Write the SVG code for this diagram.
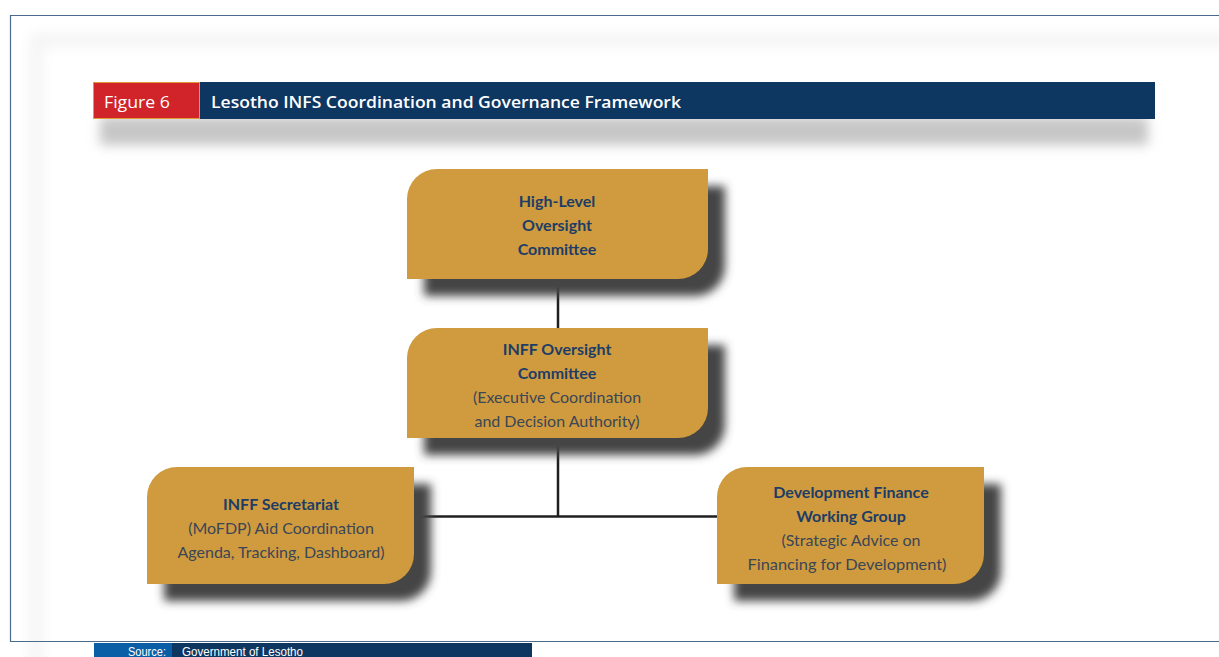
<svg xmlns="http://www.w3.org/2000/svg" width="1219" height="657" viewBox="0 0 1219 657">
  <defs>
    <filter id="soft" x="-10%" y="-10%" width="120%" height="120%">
      <feGaussianBlur stdDeviation="7"/>
    </filter>
    <filter id="hdrShadow" x="-5%" y="-60%" width="110%" height="220%">
      <feGaussianBlur stdDeviation="6"/>
    </filter>
    <filter id="boxShadow" x="-20%" y="-20%" width="140%" height="140%">
      <feGaussianBlur stdDeviation="5"/>
    </filter>
    <path id="box300" d="M30,0 H301 V80 A30,30 0 0 1 271,110 H0 V30 A30,30 0 0 1 30,0 Z"/>
    <path id="box267" d="M30,0 H267 V87 A30,30 0 0 1 237,117 H0 V30 A30,30 0 0 1 30,0 Z"/>
  </defs>
  <style>
    .frame { fill: none; stroke: #4b6a8c; stroke-width: 1.2; }
    .node { fill: #cf9b3e; }
    .shadow { fill: #444444; filter: url(#boxShadow); }
    .title { font-family: "Open Sans", Lato, "Liberation Sans", sans-serif; font-size: 17px; fill: #ffffff; }
    .hb { font-family: Lato, "Open Sans", "Liberation Sans", sans-serif; font-weight: bold; font-size: 16px; fill: #1e3d66; text-anchor: middle; }
    .hr { font-family: Lato, "Open Sans", "Liberation Sans", sans-serif; font-size: 16px; fill: #3b4656; text-anchor: middle; }
    .link { stroke: #1f1f1f; stroke-width: 2.5; fill: none; }
    .src { font-family: "Liberation Sans", Lato, sans-serif; font-size: 13px; fill: #ffffff; }
  </style>

  <!-- page background and soft inner panel -->
  <rect x="0" y="0" width="1219" height="657" fill="#ffffff"/>
  <rect x="36" y="40" width="1240" height="640" fill="none" stroke="#f1f1f1" stroke-width="10" filter="url(#soft)"/>

  <!-- frame -->
  <path class="frame" d="M1219,15.5 H10.5 V641.5 H1219"/>

  <!-- header bar -->
  <g id="header">
    <rect x="100" y="117" width="1048" height="28" fill="#c6c6c6" filter="url(#hdrShadow)"/>
    <rect x="93.5" y="82.5" width="106" height="36" fill="#d0232a" stroke="#e09a3a" stroke-width="1"/>
    <rect x="200" y="82" width="955" height="37" fill="#0d3661"/>
    <text class="title" x="104" y="108" textLength="66" lengthAdjust="spacingAndGlyphs">Figure 6</text>
    <text class="title" x="211" y="108" font-weight="600" textLength="470" lengthAdjust="spacingAndGlyphs">Lesotho INFS Coordination and Governance Framework</text>
  </g>

  <!-- connectors -->
  <g id="connectors">
    <line class="link" x1="558" y1="279" x2="558" y2="328"/>
    <line class="link" x1="558" y1="438" x2="558" y2="517"/>
    <line class="link" x1="414" y1="516.5" x2="717" y2="516.5"/>
  </g>

  <!-- node: High-Level Oversight Committee -->
  <g id="node-high-level">
    <use href="#box300" class="shadow" transform="translate(424,186)"/>
    <use href="#box300" class="node" transform="translate(407,169)"/>
    <text class="hb" x="557" y="207">High-Level</text>
    <text class="hb" x="557" y="231">Oversight</text>
    <text class="hb" x="557" y="255">Committee</text>
  </g>

  <!-- node: INFF Oversight Committee -->
  <g id="node-inff-oversight">
    <use href="#box300" class="shadow" transform="translate(424,345)"/>
    <use href="#box300" class="node" transform="translate(407,328)"/>
    <text class="hb" x="557" y="355">INFF Oversight</text>
    <text class="hb" x="557" y="379">Committee</text>
    <text class="hr" x="557" y="403">(Executive Coordination</text>
    <text class="hr" x="557" y="427">and Decision Authority)</text>
  </g>

  <!-- node: INFF Secretariat -->
  <g id="node-secretariat">
    <use href="#box267" class="shadow" transform="translate(164,484)"/>
    <use href="#box267" class="node" transform="translate(147,467)"/>
    <text class="hb" x="281" y="510">INFF Secretariat</text>
    <text class="hr" x="281" y="534">(MoFDP) Aid Coordination</text>
    <text class="hr" x="281" y="558">Agenda, Tracking, Dashboard)</text>
  </g>

  <!-- node: Development Finance Working Group -->
  <g id="node-dfwg">
    <use href="#box267" class="shadow" transform="translate(734,484)"/>
    <use href="#box267" class="node" transform="translate(717,467)"/>
    <text class="hb" x="851" y="498">Development Finance</text>
    <text class="hb" x="851" y="522">Working Group</text>
    <text class="hr" x="851" y="546">(Strategic Advice on</text>
    <text class="hr" x="847" y="570" textLength="199" lengthAdjust="spacingAndGlyphs">Financing for Development)</text>
  </g>

  <!-- source bar -->
  <g id="source">
    <rect x="94" y="643" width="78" height="14" fill="#0a5ea6"/>
    <rect x="172" y="643" width="360" height="14" fill="#0d3661"/>
    <text class="src" x="128" y="656" textLength="38" lengthAdjust="spacingAndGlyphs">Source:</text>
    <text class="src" x="182" y="656" textLength="121" lengthAdjust="spacingAndGlyphs">Government of Lesotho</text>
  </g>
</svg>
